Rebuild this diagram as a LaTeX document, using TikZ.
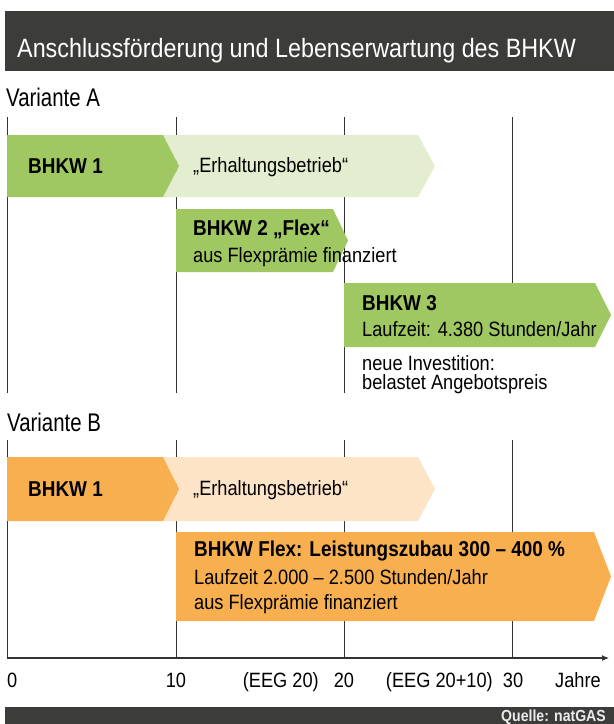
\documentclass[tikz,border=0pt]{standalone}
\usepackage{fontspec}
\setmainfont{Liberation Sans}[FakeStretch=0.88]
\newfontfamily\headfont{Liberation Sans}[FakeStretch=0.8]
\usetikzlibrary{arrows.meta}
\definecolor{barc}{HTML}{3C3C3B}
\definecolor{grn}{HTML}{A0C862}
\definecolor{lgrn}{HTML}{E3EDD0}
\definecolor{org}{HTML}{F7AF50}
\definecolor{lorg}{HTML}{FDE4C7}
\definecolor{linec}{HTML}{333333}
\begin{document}
\begin{tikzpicture}[x=1pt,y=-1pt,
  txt/.style={anchor=base west, inner sep=0pt, font=\fontsize{20.7}{24}\selectfont},
  btxt/.style={anchor=base west, inner sep=0pt, font=\bfseries\fontsize{21.5}{25}\selectfont},
  head/.style={anchor=base west, inner sep=0pt, font=\headfont\fontsize{25.5}{29}\selectfont},
  axl/.style={anchor=base, inner sep=0pt, font=\fontsize{20.7}{24}\selectfont},
  grid/.style={draw=linec, line width=1pt},
]
\useasboundingbox (0,0) rectangle (614,724);
% title bar
\fill[barc] (5,11) rectangle (614,70.5);
\node[anchor=base west, inner sep=0pt, text=white, font=\fontsize{26.5}{30}\selectfont] (title) at (17,57) {Anschlussförderung und Lebenserwartung des BHKW};
% footer
\fill[barc] (5,707) rectangle (614,724);
\node[anchor=base east, inner sep=0pt, text=white!92!black, font=\bfseries\fontsize{16}{19}\selectfont] (src) at (606,721.5) {Quelle: natGAS};

% ---------- Variante A ----------
\node[head] (va) at (6,106) {Variante A};
\draw[grid] (7,117) -- (7,393);
\draw[grid] (176,117) -- (176,393);
\draw[grid] (344,117) -- (344,393);
\draw[grid] (512,117) -- (512,290);

\fill[lgrn] (163,135) -- (418,135) -- (435,166) -- (418,197) -- (163,197) -- (179,166) -- cycle;
\fill[grn] (7,135) -- (163,135) -- (179,166) -- (163,197) -- (7,197) -- cycle;
\node[btxt] (a1) at (28,173) {BHKW 1};
\node[txt] (ae) at (193,172) {„Erhaltungsbetrieb“};

\fill[grn] (176,209) -- (333,209) -- (348,240.5) -- (333,272) -- (176,272) -- cycle;
\node[btxt] (a2) at (193,235) {BHKW 2 „Flex“};
\node[txt] (a2b) at (193,262) {aus Flexprämie finanziert};

\fill[grn] (344,283) -- (595,283) -- (611,315) -- (595,347) -- (344,347) -- cycle;
\node[btxt] (a3) at (362,310) {BHKW 3};
\node[txt] (a3b) at (362,336) {Laufzeit: 4.380 Stunden/Jahr};
\node[txt] (a3c) at (362,370) {neue Investition:};
\node[txt] (a3d) at (362,389) {belastet Angebotspreis};

% ---------- Variante B ----------
\node[head] (vb) at (7,431) {Variante B};
\draw[grid] (7,440) -- (7,658);
\draw[grid] (176,440) -- (176,658);
\draw[grid] (344,440) -- (344,658);
\draw[grid] (512,440) -- (512,658);

\fill[lorg] (163,457) -- (418,457) -- (435,489) -- (418,521) -- (163,521) -- (179,489) -- cycle;
\fill[org] (7,457) -- (163,457) -- (179,489) -- (163,521) -- (7,521) -- cycle;
\node[btxt] (b1) at (28,496) {BHKW 1};
\node[txt] (be) at (193,495) {„Erhaltungsbetrieb“};

\fill[org] (176,532) -- (594,532) -- (611,576.5) -- (594,621) -- (176,621) -- cycle;
\node[btxt] (bf) at (194,556) {BHKW Flex: Leistungszubau 300 – 400 \%};
\node[txt] (bf2) at (194,584) {Laufzeit 2.000 – 2.500 Stunden/Jahr};
\node[txt] (bf3) at (194,609) {aus Flexprämie finanziert};

% ---------- axis ----------
\coordinate (ax0) at (7,658);
\coordinate (ax1) at (609,658);
\draw[draw=linec, line width=1.1pt, -{Latex[length=7pt,width=6pt]}] (ax0) -- (ax1);
\node[txt] (l0) at (7,687) {0};
\node[axl] (l10) at (176,687) {10};
\node[anchor=base east, inner sep=0pt, font=\fontsize{20.7}{24}\selectfont] (le1) at (319,687) {(EEG 20)};
\node[axl] (l20) at (344,687) {20};
\node[anchor=base east, inner sep=0pt, font=\fontsize{20.7}{24}\selectfont] (le2) at (493,687) {(EEG 20+10)};
\node[axl] (l30) at (513,687) {30};
\node[txt] (lj) at (555,687) {Jahre};
\end{tikzpicture}
\end{document}
